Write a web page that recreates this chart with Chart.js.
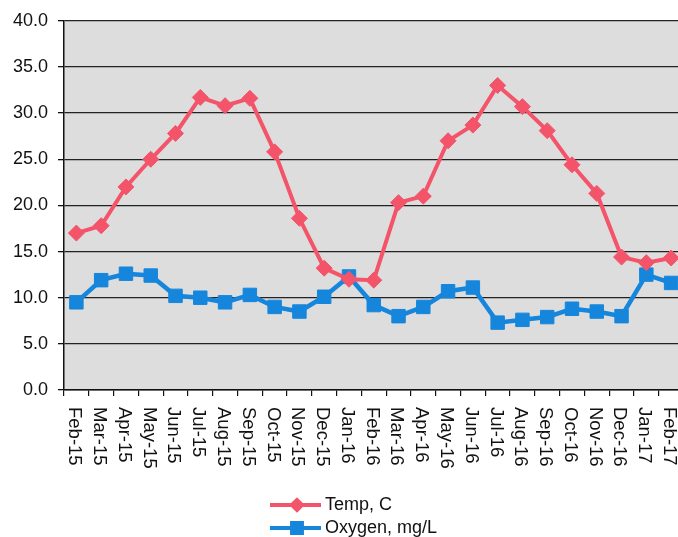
<!DOCTYPE html>
<html>
<head>
<meta charset="utf-8">
<script src="https://cdn.jsdelivr.net/npm/chart.js@4/dist/chart.umd.min.js"></script>
<style>
  html, body { margin: 0; padding: 0; background: #fff; overflow: hidden; }
  #wrap { position: relative; width: 694px; height: 537px; }
  canvas { display: block; }
</style>
</head>
<body>
<div id="wrap"><canvas id="c" width="694" height="537"></canvas></div>
<script>
const categories = ["Feb-15","Mar-15","Apr-15","May-15","Jun-15","Jul-15","Aug-15","Sep-15","Oct-15","Nov-15","Dec-15","Jan-16",
  "Feb-16","Mar-16","Apr-16","May-16","Jun-16","Jul-16","Aug-16","Sep-16","Oct-16","Nov-16","Dec-16","Jan-17","Feb-17"];
const tempValues = [17.0, 17.8, 22.0, 25.0, 27.8, 31.7, 30.8, 31.6, 25.8, 18.6, 13.2, 12.0,
  11.9, 20.3, 21.0, 27.0, 28.7, 33.0, 30.7, 28.1, 24.4, 21.3, 14.4, 13.8, 14.3];
const oxygenValues = [9.5, 11.9, 12.6, 12.4, 10.2, 10.0, 9.5, 10.3, 9.0, 8.5, 10.1, 12.3,
  9.2, 8.0, 9.0, 10.7, 11.1, 7.3, 7.6, 7.9, 8.8, 8.5, 8.0, 12.5, 11.6];
const yTicks = [0, 5, 10, 15, 20, 25, 30, 35, 40];
const seriesNames = ["Temp, C", "Oxygen, mg/L"];

const RED = "#f4546a";
const BLUE = "#1586dc";
const FONT = "'Liberation Sans', Arial, sans-serif";

const bgPlugin = {
  id: "plotBg",
  beforeDraw(chart) {
    const {ctx, chartArea: a} = chart;
    ctx.save();
    ctx.fillStyle = "#dddddd";
    ctx.fillRect(a.left, a.top, a.right - a.left, a.bottom - a.top);
    ctx.restore();
  }
};

const xLabelPlugin = {
  id: "xLabels",
  afterDraw(chart) {
    const {ctx, chartArea: a} = chart;
    const xs = chart.scales.x;
    ctx.save();
    ctx.fillStyle = "#111";
    ctx.font = "18.5px " + FONT;
    ctx.textAlign = "left";
    ctx.textBaseline = "middle";
    categories.forEach((lab, i) => {
      const x = xs.getPixelForValue(i);
      ctx.save();
      ctx.translate(x - 2, a.bottom + 17);
      ctx.rotate(Math.PI / 2);
      ctx.fillText(lab, 0, 0);
      ctx.restore();
    });
    ctx.restore();
  }
};

const legendPlugin = {
  id: "customLegend",
  afterDraw(chart) {
    const ctx = chart.ctx;
    ctx.save();
    chart.data.datasets.forEach((ds, i) => {
      const y = 505 + i * 23;
      ctx.strokeStyle = ds.borderColor;
      ctx.lineWidth = 4;
      ctx.beginPath();
      ctx.moveTo(270, y);
      ctx.lineTo(321, y);
      ctx.stroke();
      ctx.fillStyle = ds.borderColor;
      Chart.helpers.drawPoint(ctx, {pointStyle: ds.pointStyle, radius: i === 0 ? 5 : 7, rotation: 0, borderWidth: 1}, 297, y);
      ctx.fill();
      ctx.fillStyle = "#111";
      ctx.font = "18px " + FONT;
      ctx.textAlign = "left";
      ctx.textBaseline = "middle";
      ctx.fillText(ds.label, 325, y);
    });
    ctx.restore();
  }
};

new Chart(document.getElementById("c"), {
  type: "line",
  data: {
    labels: categories,
    datasets: [
      {
        label: seriesNames[0],
        data: tempValues,
        borderColor: RED,
        backgroundColor: RED,
        borderWidth: 4,
        pointStyle: "rectRot",
        pointRadius: 8,
        pointBorderWidth: 1,
        tension: 0
      },
      {
        label: seriesNames[1],
        data: oxygenValues,
        borderColor: BLUE,
        backgroundColor: BLUE,
        borderWidth: 4.5,
        pointStyle: "rect",
        pointRadius: 9.5,
        pointBorderWidth: 1,
        tension: 0
      }
    ]
  },
  options: {
    responsive: false,
    animation: false,
    devicePixelRatio: 1,
    layout: { padding: { top: 20, right: 3, left: 0, bottom: 0 } },
    plugins: { legend: { display: false }, tooltip: { enabled: false } },
    scales: {
      x: {
        type: "category",
        offset: true,
        afterFit(s) { s.height = 147; },
        ticks: { display: false },
        grid: { offset: true, drawOnChartArea: false, drawTicks: true, tickLength: 6, color: "#111", lineWidth: 1.2 },
        border: { display: true, color: "#111", width: 1.5 }
      },
      y: {
        min: 0,
        max: 40,
        afterFit(s) { s.width = 64; },
        afterBuildTicks(s) { s.ticks = yTicks.map(v => ({value: v})); },
        ticks: {
          color: "#111",
          padding: 10,
          font: { family: FONT, size: 18 },
          callback: v => Number(v).toFixed(1)
        },
        grid: { color: "#222", lineWidth: 1.3, tickLength: 6, drawTicks: true, tickColor: "#111" },
        border: { display: true, color: "#111", width: 1.5 }
      }
    }
  },
  plugins: [bgPlugin, xLabelPlugin, legendPlugin]
});
</script>
</body>
</html>
